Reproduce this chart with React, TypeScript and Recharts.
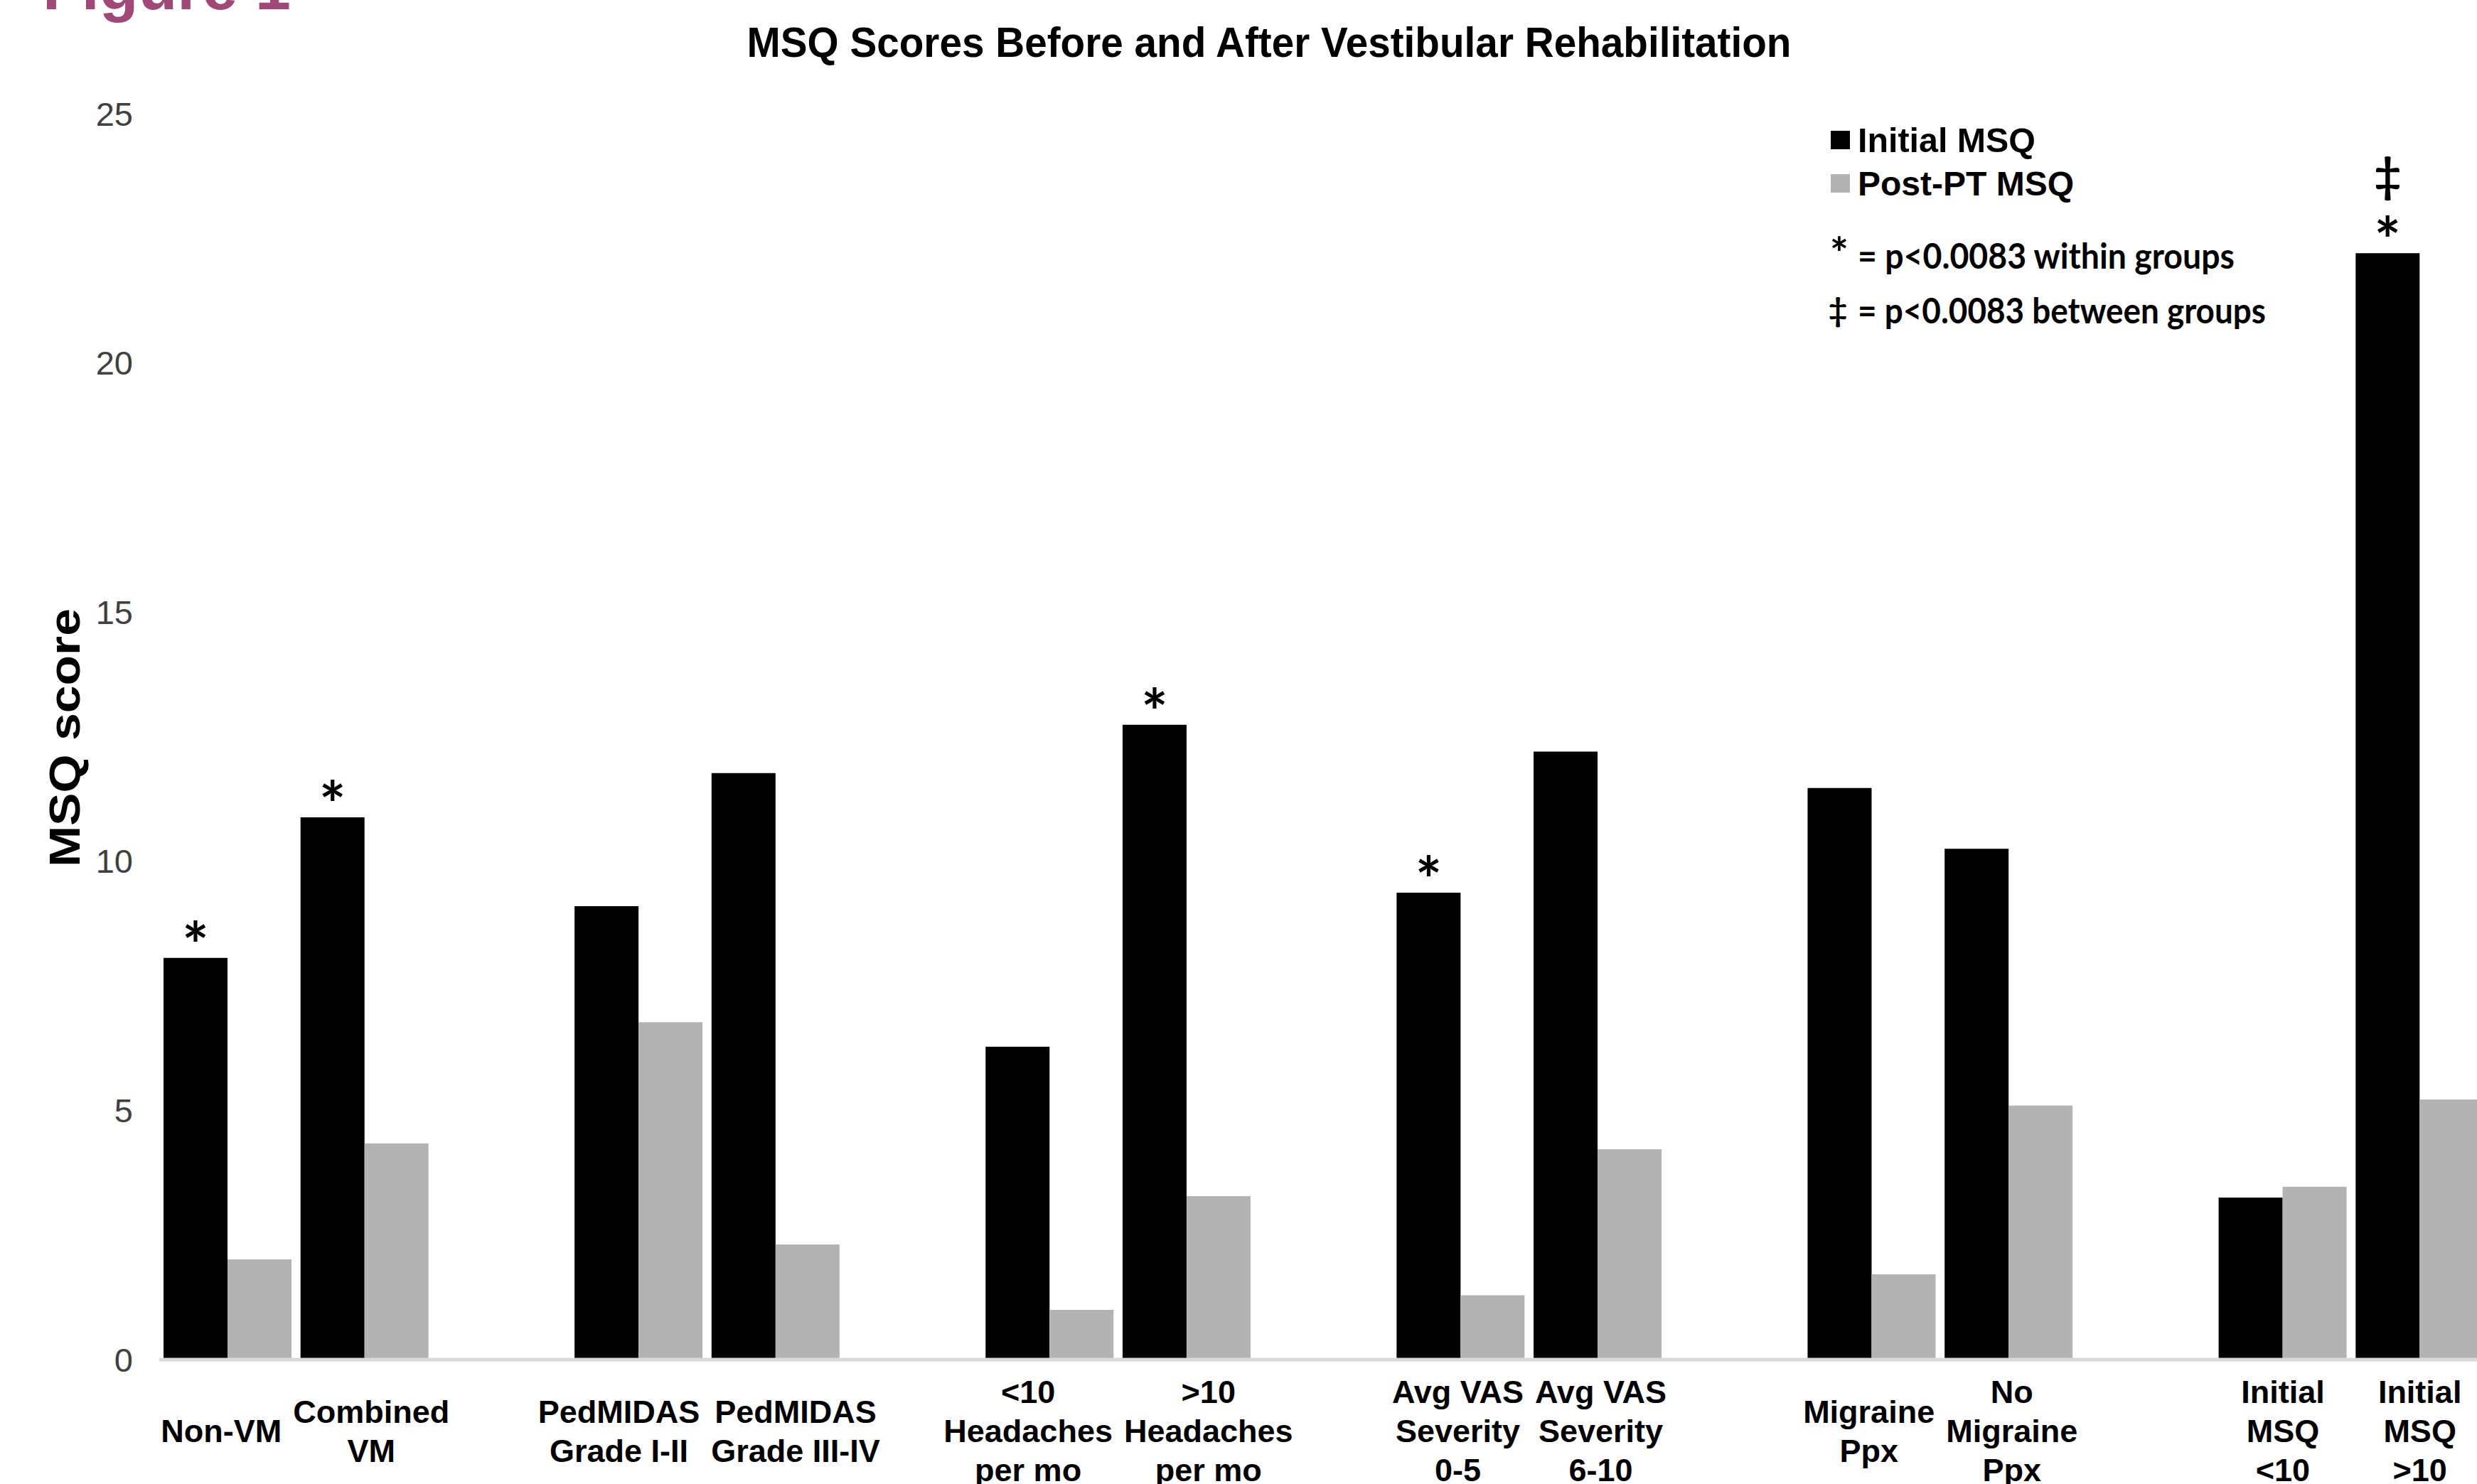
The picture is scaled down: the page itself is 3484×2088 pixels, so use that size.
import React from 'react'
import { BarChart, Bar, XAxis, YAxis, Legend, LabelList, Label } from 'recharts'

// one slot per category, blank slots separate the six comparison pairs
const categories = [
  'Non-VM', 'Combined\nVM', '',
  'PedMIDAS\nGrade I-II', 'PedMIDAS\nGrade III-IV', '',
  '<10\nHeadaches\nper mo', '>10\nHeadaches\nper mo', '',
  'Avg VAS\nSeverity\n0-5', 'Avg VAS\nSeverity\n6-10', '',
  'Migraine\nPpx', 'No\nMigraine\nPpx', '',
  'Initial\nMSQ\n<10', 'Initial\nMSQ\n>10',
]
const initialMSQ = [8.06, 10.88, null, 9.1, 11.77, null, 6.28, 12.74, null, 9.37, 12.2, null, 11.47, 10.25, null, 3.25, 22.2]
const postMSQ = [2.01, 4.34, null, 6.77, 2.31, null, 1.0, 3.28, null, 1.29, 4.22, null, 1.71, 5.1, null, 3.47, 5.22]
// * within groups, ‡ between groups
const marks = ['*', '*', '', '', '', '', '', '*', '', '*', '', '', '', '', '', '', '*‡']
const seriesNames = ['Initial MSQ', 'Post-PT MSQ']
const noteTexts = ['= p<0.0083 within groups', '= p<0.0083 between groups']
const yTicks = [0, 5, 10, 15, 20, 25]

const W = 3520
const H = 2088
const MARGIN = { top: 160, right: 20, bottom: 0, left: 0 }
const Y_AXIS_W = 224
const X_AXIS_H = 175
const SLOT = (W - MARGIN.left - MARGIN.right - Y_AXIS_W) / categories.length
const TICK_FONT = 45
const LINE_H = 55
const SANS = '"Liberation Sans", Arial, sans-serif'

const data = categories.map((name, i) => ({
  name,
  initial: initialMSQ[i],
  post: postMSQ[i],
  mark: marks[i],
}))

let ctx: CanvasRenderingContext2D | null = null
function textWidth(label: string) {
  if (!label) return 0
  if (!ctx) ctx = document.createElement('canvas').getContext('2d')
  if (!ctx) return label.length * TICK_FONT * 0.55
  ctx.font = `bold ${TICK_FONT}px "Liberation Sans"`
  return Math.max(...label.split('\n').map(l => ctx!.measureText(l).width))
}

// nudge neighbouring labels apart when they would collide
function labelShift(i: number) {
  const w = textWidth(categories[i])
  const right = categories[i + 1]
  const left = categories[i - 1]
  if (right) return -Math.max(0, (w + textWidth(right)) / 2 + 16 - SLOT) / 2
  if (left) return Math.max(0, (w + textWidth(left)) / 2 + 16 - SLOT) / 2
  return 0
}

function CategoryTick(props: any) {
  const { x, y, payload } = props
  const i = props.index ?? payload.index
  const label = categories[i]
  if (!label) return null
  const lines = label.split('\n')
  const cx = Number(x) + labelShift(i)
  const mid = Number(y) + 100
  return (
    <text textAnchor="middle" fontFamily={SANS} fontWeight={700} fontSize={TICK_FONT} fill="#000">
      {lines.map((l, k) => (
        <tspan key={k} x={cx} y={mid + (k - (lines.length - 1) / 2) * LINE_H} dy="0.36em">{l}</tspan>
      ))}
    </text>
  )
}

function renderMark(props: any) {
  const { x, y, width, value } = props
  if (!value) return null
  const cx = Number(x) + Number(width) / 2
  const top = Number(y)
  return (
    <g fontFamily="Lato, sans-serif" fontWeight={700} fill="#000" textAnchor="middle">
      {value.includes('*') && <text x={cx} y={top + 14} fontSize={88}>*</text>}
      {value.includes('‡') && <text x={cx} y={top - 86} fontSize={66}>‡</text>}
    </g>
  )
}

function renderLegend(props: any) {
  const items = props.payload || []
  return (
    <svg width={720} height={320}>
      {items.map((it: any, i: number) => (
        <g key={it.value}>
          <rect x={15} y={24 + i * 61} width={27} height={26} fill={it.color} />
          <text x={53} y={54 + i * 61} fontFamily={SANS} fontWeight={700} fontSize={48}
            textLength={i === 0 ? 250 : 304} lengthAdjust="spacingAndGlyphs">{it.value}</text>
        </g>
      ))}
      <g fontFamily="Lato, sans-serif" fontWeight={700} fill="#000">
        <text x={27} y={219} fontSize={62} textAnchor="middle">*</text>
        <text x={53} y={218} fontSize={49} textLength={530} lengthAdjust="spacingAndGlyphs">{noteTexts[0]}</text>
        <text x={25} y={292} fontSize={46} textAnchor="middle">‡</text>
        <text x={53} y={295} fontSize={49} textLength={574} lengthAdjust="spacingAndGlyphs">{noteTexts[1]}</text>
      </g>
    </svg>
  )
}

export default function App() {
  return (
    <div style={{ position: 'fixed', left: 0, top: 0, width: 3484, height: 2088, overflow: 'hidden', background: '#fff' }}>
      <div style={{ position: 'absolute', left: 0, top: 0 }}>
        <BarChart width={W} height={H} data={data} margin={MARGIN} barCategoryGap={6} barGap={0}>
          <XAxis dataKey="name" interval={0} height={X_AXIS_H} tickLine={false} tickSize={0} tickMargin={0}
            axisLine={{ stroke: '#d9d9d9', strokeWidth: 5 }} tick={<CategoryTick />} />
          <YAxis width={Y_AXIS_W} domain={[0, 25]} ticks={yTicks} axisLine={false} tickLine={false}
            tickSize={0} tickMargin={37} tick={{ fontSize: 47, fill: '#404040', fontFamily: SANS }}>
            <Label content={() => (
              <text transform="translate(112,1038) rotate(-90)" textAnchor="middle" fontFamily={SANS}
                fontWeight={700} fontSize={62} textLength={364} lengthAdjust="spacingAndGlyphs" fill="#000">
                MSQ score
              </text>
            )} />
          </YAxis>
          <Legend layout="vertical" align="center" verticalAlign="middle"
            wrapperStyle={{ left: 2560, top: 160, width: 720, height: 320 }} content={renderLegend} />
          <Bar dataKey="initial" name={seriesNames[0]} fill="#000000" isAnimationActive={false}>
            <LabelList dataKey="mark" content={renderMark} />
          </Bar>
          <Bar dataKey="post" name={seriesNames[1]} fill="#b3b3b3" isAnimationActive={false} />
        </BarChart>
      </div>
      <svg width={3484} height={200} style={{ position: 'absolute', left: 0, top: 0, pointerEvents: 'none' }}>
        <text x={60} y={13} fontFamily={SANS} fontWeight={700} fontSize={90} fill="#a04878"
          textLength={349} lengthAdjust="spacingAndGlyphs">Figure 1</text>
        <text x={1785} y={80} textAnchor="middle" fontFamily={SANS} fontWeight={700} fontSize={60} fill="#000"
          textLength={1469} lengthAdjust="spacingAndGlyphs">MSQ Scores Before and After Vestibular Rehabilitation</text>
      </svg>
    </div>
  )
}
